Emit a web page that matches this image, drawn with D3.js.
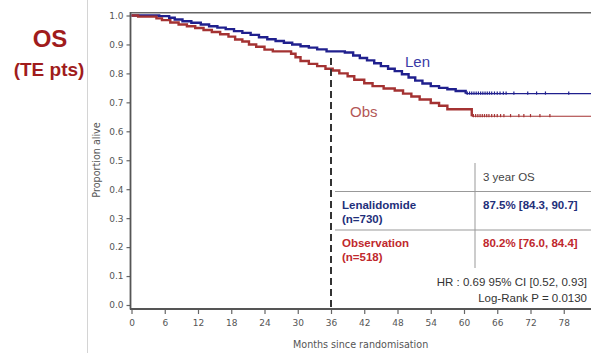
<!DOCTYPE html>
<html>
<head>
<meta charset="utf-8">
<script src="https://cdn.jsdelivr.net/npm/d3@7"></script>
<style>
  html, body { margin: 0; padding: 0; background: #fff; }
  svg { display: block; }
</style>
</head>
<body>
<svg id="chart" width="591" height="353"></svg>
<script>
// Kaplan-Meier steps: [month, proportion alive]
const lenSteps = [[0,1.0],[5,0.998],[6.8,0.992],[7.8,0.986],[9.2,0.98],[10.8,0.975],[12.5,0.969],[14,0.963],[15.5,0.958],[17,0.953],[18.5,0.946],[20,0.94],[21.5,0.933],[23,0.925],[24.5,0.918],[26,0.912],[27.5,0.906],[29,0.9],[30.5,0.894],[32,0.889],[33.5,0.883],[35.2,0.876],[38.5,0.872],[40,0.862],[41.2,0.853],[42.5,0.845],[43.8,0.835],[45,0.825],[46.3,0.816],[47.5,0.808],[48.8,0.797],[50,0.786],[51.2,0.775],[52.5,0.765],[54,0.756],[55.5,0.75],[57,0.745],[58.5,0.739],[60.3,0.73]];
const obsSteps = [[0,1.0],[1.2,0.996],[4.5,0.99],[5.5,0.984],[7,0.976],[8.5,0.969],[10,0.963],[11.5,0.957],[13,0.95],[14.5,0.943],[16,0.935],[17.5,0.927],[18.7,0.917],[20,0.91],[21.2,0.9],[22.5,0.892],[24,0.882],[25.5,0.876],[28.8,0.868],[29.6,0.856],[30.5,0.843],[32,0.833],[33.5,0.825],[35,0.816],[36.3,0.81],[37.5,0.8],[39,0.79],[40.2,0.778],[42,0.766],[43.5,0.756],[45.5,0.748],[47.5,0.741],[49,0.73],[50.5,0.72],[52,0.71],[54,0.698],[55.5,0.688],[57,0.676],[61.4,0.652]];
// Censoring times (months)
const lenCensored = [60.6,61,61.4,61.8,62.2,62.6,63,63.4,63.8,64.2,64.6,65,65.5,66,66.5,67.1,67.6,69,71.5,73.1,74.7,78.9];
const obsCensored = [61.7,62.1,62.5,62.9,63.3,63.7,64.1,64.5,65,65.5,66,66.6,67.2,68.4,69.9,70.8,72,73.7,75.5];
const followUpEnd = 84;
const landmark = 36;

const xTicks = d3.range(0, 85, 6);
const yTicks = d3.range(0, 11).map(i => i / 10);

const tableHeader = "3 year OS";
const tableRows = [
  { arm: "Lenalidomide", n: "(n=730)", os: "87.5% [84.3, 90.7]", color: "#1f2f7a" },
  { arm: "Observation", n: "(n=518)", os: "80.2% [76.0, 84.4]", color: "#c0282d" }
];
const statLines = ["HR : 0.69 95% CI [0.52, 0.93]", "Log-Rank P = 0.0130"];

const svg = d3.select("#chart");
const x = d3.scaleLinear().domain([0, 84]).range([131.5, 597]);
const y = d3.scaleLinear().domain([0, 1]).range([305, 15.5]);

// Slide separator and title
svg.append("line").attr("x1", 87.5).attr("x2", 87.5).attr("y1", 0).attr("y2", 353)
  .attr("stroke", "#d4d4d4").attr("stroke-width", 1);
svg.append("text").attr("x", 50).attr("y", 47).attr("text-anchor", "middle")
  .attr("font-family", "Liberation Sans, Arial, sans-serif").attr("font-weight", "bold")
  .attr("font-size", 24).attr("fill", "#a01c1c").text("OS");
svg.append("text").attr("x", 49).attr("y", 76).attr("text-anchor", "middle")
  .attr("font-family", "Liberation Sans, Arial, sans-serif").attr("font-weight", "bold")
  .attr("font-size", 19).attr("fill", "#a01c1c").text("(TE pts)");

// Plot frame
svg.append("line").attr("x1", 130.5).attr("x2", 591).attr("y1", 12.8).attr("y2", 12.8)
  .attr("stroke", "#666").attr("stroke-width", 1.6);

const axisFont = "DejaVu Sans, Verdana, sans-serif";

const yAxis = svg.append("g").attr("transform", "translate(130.5,0)")
  .call(d3.axisLeft(y).tickValues(yTicks).tickFormat(d3.format(".1f")).tickSize(4).tickSizeOuter(0));
yAxis.select(".domain").remove();
svg.append("line").attr("x1", 130.5).attr("x2", 130.5).attr("y1", 12).attr("y2", 309.5)
  .attr("stroke", "#555").attr("stroke-width", 1.8);

const xAxis = svg.append("g").attr("transform", "translate(0,309)")
  .call(d3.axisBottom(x).tickValues(xTicks).tickSize(5).tickSizeOuter(0).tickPadding(6));
xAxis.select(".domain").remove();
svg.append("line").attr("x1", 130).attr("x2", 591).attr("y1", 309).attr("y2", 309)
  .attr("stroke", "#555").attr("stroke-width", 1.8);

[yAxis, xAxis].forEach(g => {
  g.selectAll("text").attr("font-family", axisFont).attr("font-size", 9).attr("fill", "#555");
  g.selectAll(".tick line").attr("stroke", "#666").attr("stroke-width", 1.2);
});

svg.append("text").attr("transform", "translate(100,160) rotate(-90)")
  .attr("text-anchor", "middle").attr("font-family", axisFont).attr("font-size", 9.6)
  .attr("fill", "#555").text("Proportion alive");
svg.append("text").attr("x", 293).attr("y", 348)
  .attr("font-family", axisFont).attr("font-size", 9.6)
  .attr("fill", "#555").text("Months since randomisation");

// Survival curves
function stepPoints(steps, end) {
  return steps.concat([[end, steps[steps.length - 1][1]]]);
}
function survivalAt(steps, t) {
  let s = steps[0][1];
  for (const [m, v] of steps) { if (m <= t) s = v; }
  return s;
}
const line = d3.line().x(d => x(d[0])).y(d => y(d[1])).curve(d3.curveStepAfter);

function drawArm(steps, censored, color) {
  const pts = stepPoints(steps, followUpEnd);
  const lastDrop = steps[steps.length - 1][0];
  const early = pts.filter(d => d[0] <= lastDrop);
  const late = pts.filter(d => d[0] >= lastDrop);
  svg.append("path").attr("d", line(early)).attr("fill", "none")
    .attr("stroke", color).attr("stroke-width", 2.4);
  svg.append("path").attr("d", line(late)).attr("fill", "none")
    .attr("stroke", color).attr("stroke-width", 1.2);
  svg.append("g").selectAll("line").data(censored).join("line")
    .attr("x1", d => x(d)).attr("x2", d => x(d))
    .attr("y1", d => y(survivalAt(steps, d)) - 2.2)
    .attr("y2", d => y(survivalAt(steps, d)) + 1)
    .attr("stroke", color).attr("stroke-width", 1.2);
}
drawArm(lenSteps, lenCensored, "#20208e");
drawArm(obsSteps, obsCensored, "#a43232");

svg.append("text").attr("x", 405).attr("y", 67).attr("font-family", "Liberation Sans, Arial, sans-serif")
  .attr("font-size", 15).attr("fill", "#3a3aa6").text("Len");
svg.append("text").attr("x", 350).attr("y", 117).attr("font-family", "Liberation Sans, Arial, sans-serif")
  .attr("font-size", 15).attr("fill", "#b35757").text("Obs");

// 3-year landmark
svg.append("line").attr("x1", x(landmark)).attr("x2", x(landmark))
  .attr("y1", 58).attr("y2", 308)
  .attr("stroke", "#333").attr("stroke-width", 2).attr("stroke-dasharray", "7,4");

// Summary table
const tf = "Liberation Sans, Arial, sans-serif";
const tbl = svg.append("g");
tbl.append("line").attr("x1", 475).attr("x2", 475).attr("y1", 163).attr("y2", 268)
  .attr("stroke", "#999").attr("stroke-width", 1);
[191.5, 230].forEach(yy => tbl.append("line").attr("x1", 335).attr("x2", 591)
  .attr("y1", yy).attr("y2", yy).attr("stroke", "#999").attr("stroke-width", 1));
tbl.append("text").attr("x", 483).attr("y", 181).attr("font-family", tf).attr("font-size", 11.5)
  .attr("fill", "#444").text(tableHeader);
tableRows.forEach((r, i) => {
  const base = 209 + i * 38;
  tbl.append("text").attr("x", 342).attr("y", base).attr("font-family", tf).attr("font-size", 11.5)
    .attr("font-weight", "bold").attr("fill", r.color).text(r.arm);
  tbl.append("text").attr("x", 342).attr("y", base + 14).attr("font-family", tf).attr("font-size", 11.5)
    .attr("font-weight", "bold").attr("fill", r.color).text(r.n);
  tbl.append("text").attr("x", 483).attr("y", base).attr("font-family", tf).attr("font-size", 11.5)
    .attr("font-weight", "bold").attr("fill", r.color).text(r.os);
});
statLines.forEach((s, i) => {
  tbl.append("text").attr("x", 587).attr("y", 286 + i * 16).attr("text-anchor", "end")
    .attr("font-family", tf).attr("font-size", 11.5).attr("fill", "#333").text(s);
});
</script>
</body>
</html>
